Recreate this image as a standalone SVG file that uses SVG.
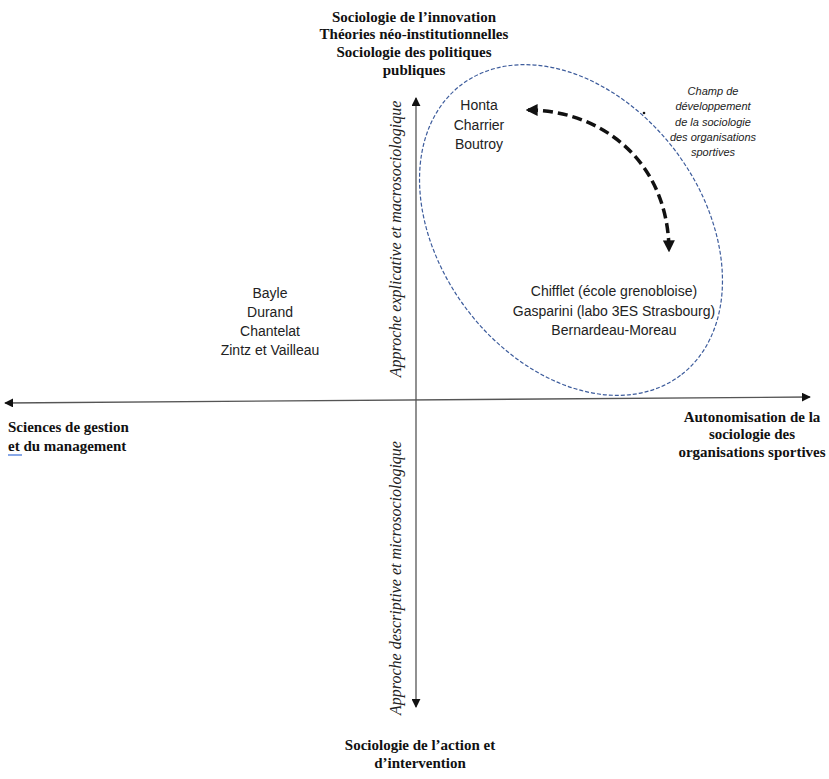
<svg xmlns="http://www.w3.org/2000/svg" width="829" height="779" viewBox="0 0 829 779">
<style>
.title{font-family:"Liberation Serif","Times New Roman",serif;font-weight:bold;font-size:15px;fill:#111;}
.axislbl{font-family:"Liberation Serif","Times New Roman",serif;font-style:italic;font-size:16px;fill:#222;}
.names{font-family:"Liberation Sans",Arial,sans-serif;font-size:14px;fill:#222;}
.note{font-family:"Liberation Sans",Arial,sans-serif;font-style:italic;font-size:11px;fill:#222;}
.axis{stroke:#555;stroke-width:1.3;fill:none;}
</style>
<defs>
<marker id="ah" viewBox="0 0 10 10" refX="9" refY="5" markerWidth="9" markerHeight="9" markerUnits="userSpaceOnUse" orient="auto-start-reverse">
<path d="M0,0 L10,5 L0,10 z" fill="#111"/>
</marker>
<marker id="bh" viewBox="0 0 10 10" refX="8" refY="5" markerWidth="12" markerHeight="12" markerUnits="userSpaceOnUse" orient="auto-start-reverse">
<path d="M0,0 L10,5 L0,10 z" fill="#111"/>
</marker>
</defs>
<rect width="829" height="779" fill="#fff"/>
<g id="connectors">
<line class="axis" x1="416" y1="707" x2="416" y2="98" marker-start="url(#ah)" marker-end="url(#ah)"/>
<line class="axis" x1="5" y1="403" x2="810" y2="397" marker-start="url(#ah)" marker-end="url(#ah)"/>
<path d="M528 110 C600 110 668 160 669 250" fill="none" stroke="#111" stroke-width="3.5" stroke-dasharray="10,5" marker-start="url(#bh)" marker-end="url(#bh)"/>
</g>
<g id="field">
<ellipse cx="571" cy="230" rx="182" ry="131" transform="rotate(53 571 230)" fill="none" stroke="#3d5c9c" stroke-width="1.2" stroke-dasharray="4,2"/>
<circle cx="644" cy="113" r="1.3" fill="#111"/>
<text class="note" text-anchor="middle"><tspan x="713" y="95">Champ de</tspan><tspan x="713" y="110">développement</tspan><tspan x="713" y="126">de la sociologie</tspan><tspan x="713" y="141">des organisations</tspan><tspan x="713" y="156">sportives</tspan></text>
</g>
<g id="top-label">
<text class="title" text-anchor="middle"><tspan x="414" y="22">Sociologie de l’innovation</tspan><tspan x="414" y="39">Théories néo-institutionnelles</tspan><tspan x="414" y="57">Sociologie des politiques</tspan><tspan x="414" y="75">publiques</tspan></text>
</g>
<g id="bottom-label">
<text class="title" text-anchor="middle"><tspan x="420" y="750">Sociologie de l’action et</tspan><tspan x="420" y="768">d’intervention</tspan></text>
</g>
<g id="left-label">
<text class="title"><tspan x="8" y="432">Sciences de gestion</tspan><tspan x="8" y="451">et du management</tspan></text>
<line x1="8" y1="455" x2="22" y2="455" stroke="#3a6fd8" stroke-width="1.2"/>
</g>
<g id="right-label">
<text class="title" text-anchor="middle"><tspan x="752" y="422">Autonomisation de la</tspan><tspan x="752" y="439">sociologie des</tspan><tspan x="752" y="457">organisations sportives</tspan></text>
</g>
<g id="axis-up-label">
<text class="axislbl" text-anchor="middle" transform="translate(401 239) rotate(-90)">Approche explicative et macrosociologique</text>
</g>
<g id="axis-down-label">
<text class="axislbl" text-anchor="middle" transform="translate(401 578) rotate(-90)">Approche descriptive et microsociologique</text>
</g>
<g id="group-bayle">
<text class="names" text-anchor="middle"><tspan x="270" y="298">Bayle</tspan><tspan x="270" y="317">Durand</tspan><tspan x="270" y="336">Chantelat</tspan><tspan x="270" y="355">Zintz et Vailleau</tspan></text>
</g>
<g id="group-honta">
<text class="names" text-anchor="middle"><tspan x="479" y="110">Honta</tspan><tspan x="479" y="130">Charrier</tspan><tspan x="479" y="149">Boutroy</tspan></text>
</g>
<g id="group-chifflet">
<text class="names" text-anchor="middle"><tspan x="614" y="296">Chifflet (école grenobloise)</tspan><tspan x="614" y="316">Gasparini (labo 3ES Strasbourg)</tspan><tspan x="614" y="335">Bernardeau-Moreau</tspan></text>
</g>
</svg>
